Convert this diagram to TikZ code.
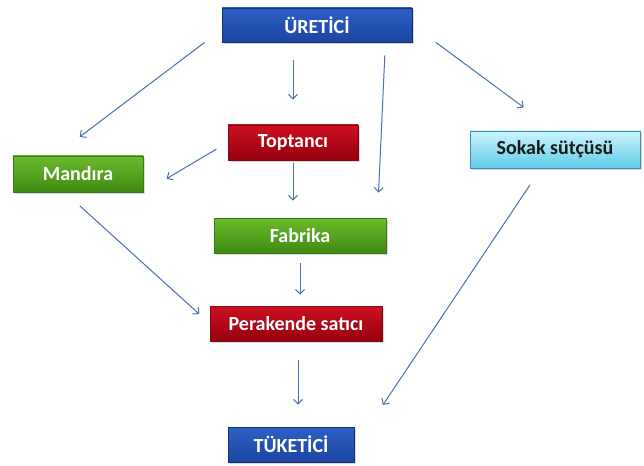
\documentclass[tikz,border=0pt]{standalone}
\usepackage{fontspec}
\setmainfont{Carlito}
\usepackage{xcolor}
\definecolor{bluetop}{HTML}{2D5FC4}
\definecolor{bluebot}{HTML}{1B45A2}
\definecolor{blueline}{HTML}{12306C}
\definecolor{grntop}{HTML}{6DBB2C}
\definecolor{grnbot}{HTML}{3E8912}
\definecolor{grnline}{HTML}{3A7A16}
\definecolor{redtop}{HTML}{CC1020}
\definecolor{redbot}{HTML}{96000E}
\definecolor{redline}{HTML}{7E0A12}
\definecolor{cyantop}{HTML}{CDF3FC}
\definecolor{cyanbot}{HTML}{5ECDEA}
\definecolor{cyanline}{HTML}{3B8DB3}
\definecolor{arrc}{HTML}{4772AE}
\usetikzlibrary{arrows.meta,positioning,calc,shadows}
\tikzset{
  >={Straight Barb[length=4.5pt,width=9pt]},
  box/.style={rectangle,line width=0.8pt,inner sep=2pt,minimum height=35pt,
    font=\fontsize{20}{24}\selectfont\bfseries,text=white,align=center,
    drop shadow={opacity=0.3,shadow xshift=1.5pt,shadow yshift=-2pt}},
  bluebox/.style={box,draw=blueline,top color=bluetop,bottom color=bluebot},
  grnbox/.style={box,draw=grnline,top color=grntop,bottom color=grnbot},
  redbox/.style={box,draw=redline,top color=redtop,bottom color=redbot},
  cyanbox/.style={box,draw=cyanline,top color=cyantop,bottom color=cyanbot,text=black!90},
  arr/.style={->,draw=arrc,line width=1pt},
}
\begin{document}
\begin{tikzpicture}[x=1pt,y=-1pt]
\useasboundingbox (0,0) rectangle (644,465);
\node[bluebox,minimum width=190pt,minimum height=34pt] (ur) at (317,25) {ÜRETİCİ};
\node[grnbox,minimum width=130pt,minimum height=36pt] (ma) at (78,174) {Mandıra};
\node[redbox,minimum width=130pt] (to) at (293,142.5) {Toptancı};
\node[cyanbox,minimum width=170pt,minimum height=37pt] (so) at (555,149.5) {Sokak sütçüsü};
\node[grnbox,minimum width=172pt] (fa) at (300,235.5) {Fabrika};
\node[redbox,minimum width=172pt] (pe) at (296,323.5) {Perakende satıcı};
\node[bluebox,minimum width=126pt] (tu) at (291,444.5) {TÜKETİCİ};
% connectors (short, detached from the boxes)
\draw[arr,shorten >=31pt] ([xshift=-17pt]ur.south west) -- ([xshift=-23pt]ma.north);
\draw[arr,shorten <=18pt,shorten >=25pt] (ur.south -| to.north) -- (to.north);
\draw[arr,shorten <=13pt,shorten >=25pt] ([xshift=-27pt]ur.south east) -- ([xshift=-9pt]fa.north east);
\draw[arr,shorten <=29pt,shorten >=39pt] (ur.east) -- (so.north);
\draw[arr,shorten <=13pt,shorten >=27pt] (to.west) -- (ma.south east);
\draw[arr,shorten <=3pt,shorten >=17pt] (to.south) -- (to.south |- fa.north);
\draw[arr,shorten <=10pt,shorten >=11pt] (fa.south) -- (fa.south |- pe.north);
\draw[arr,shorten <=20pt,shorten >=14pt] ([xshift=-13pt]ma.south) -- (pe.west);
\draw[arr,shorten <=19pt,shorten >=22pt] ([xshift=2pt]pe.south) -- ([xshift=2pt]pe.south |- tu.north);
\draw[arr,shorten <=20pt,shorten >=26pt] ([xshift=-14pt]so.south) -- ([xshift=14pt]tu.north east);
\end{tikzpicture}
\end{document}
